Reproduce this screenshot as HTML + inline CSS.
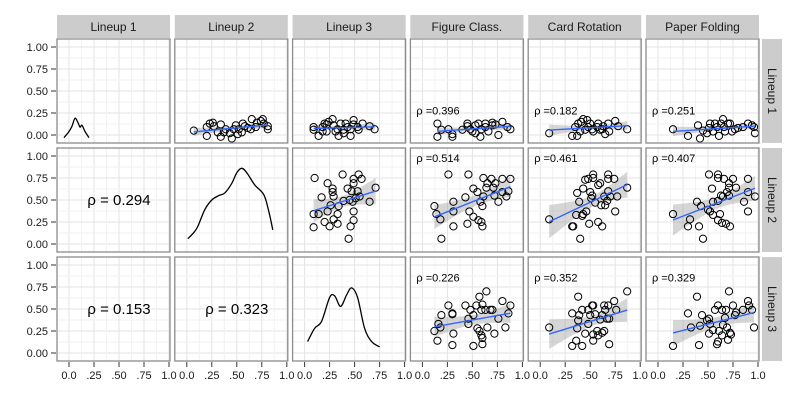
<!DOCTYPE html>
<html><head><meta charset="utf-8">
<style>
body{margin:0;background:#fff;}
svg{display:block;font-family:"Liberation Sans",sans-serif;}
</style></head>
<body>
<svg id="chart" width="800" height="400" viewBox="0 0 800 400"></svg>
<script>
const vars = ["Lineup 1","Lineup 2","Lineup 3","Figure Class.","Card Rotation","Paper Folding"];
const rowVars = ["Lineup 1","Lineup 2","Lineup 3"];
const xTicks = [0,0.25,0.5,0.75,1];
const xTickLabels = ["0.0",".25",".50",".75","1.0"];
const yTickLabels = ["0.00","0.25","0.50","0.75","1.00"];
// lower-triangle correlations [row, col, rho]
const lowerRho = [[1,0,"0.294"],[2,0,"0.153"],[2,1,"0.323"]];
// upper correlations [row, col, rho, labelY]
const upperRho = [[0,3,"0.396",0.28],[0,4,"0.182",0.28],[0,5,"0.251",0.28],
 [1,3,"0.514",0.98],[1,4,"0.461",0.98],[1,5,"0.407",0.98],
 [2,3,"0.226",0.86],[2,4,"0.352",0.86],[2,5,"0.329",0.86]];
// density curves (diagonal)
const dens0x = [-0.05,0.00,0.03,0.06,0.09,0.11,0.13,0.16,0.20];
const dens0y = [-0.03,0.04,0.10,0.19,0.14,0.09,0.11,0.04,-0.03];
const dens1x = [0.01,0.07,0.11,0.18,0.25,0.32,0.38,0.45,0.50,0.55,0.60,0.68,0.77,0.82,0.86];
const dens1y = [0.06,0.13,0.20,0.39,0.50,0.55,0.58,0.69,0.81,0.86,0.81,0.67,0.56,0.37,0.16];
const dens2x = [0.03,0.10,0.17,0.25,0.30,0.36,0.42,0.47,0.53,0.60,0.67,0.75];
const dens2y = [0.13,0.28,0.36,0.63,0.65,0.53,0.66,0.74,0.63,0.28,0.13,0.07];
// scatter panels: x values and y values
const p01x=[.07,.20,.23,.26,.27,.34,.20,.34,.37,.45,.43,.49,.51,.55,.56,.58,.64,.65,.69,.74,.76,.77,.81,.81,.70,.39,.47,.61,.31,.52];
const p01y=[.05,.09,.13,.14,.10,.12,-.01,-.02,.03,-.04,.02,.11,.01,.03,.13,.10,.065,.18,.09,.16,.18,.13,.10,.065,.14,.065,.065,.08,.03,.065];
const p02x=[.09,.09,.14,.18,.20,.22,.24,.28,.29,.31,.34,.36,.39,.41,.43,.46,.46,.49,.49,.53,.54,.58,.65,.70,.22,.33,.39,.18];
const p02y=[.09,.06,-.01,.04,.13,.12,.15,.18,.11,.04,-.01,.13,.06,.13,.09,.065,-.01,.17,.12,.09,.06,.13,.10,.065,.04,.065,.02,.09];
const p03x=[.15,.19,.15,.26,.30,.30,.45,.45,.48,.53,.56,.58,.59,.63,.63,.66,.70,.70,.73,.76,.80,.85,.88,.50,.40,.53];
const p03y=[.13,.06,-.02,.065,.01,-.02,.13,.10,.065,.11,.13,-.02,.065,.09,.13,.04,.14,.11,.12,.00,.15,.09,.065,.04,.06,.02];
const p04x=[.09,.32,.37,.35,.38,.41,.43,.47,.48,.50,.52,.53,.57,.58,.60,.62,.65,.68,.69,.75,.78,.87,.40,.45,.63];
const p04y=[.02,-.01,-.01,.09,.13,.15,.18,.17,.09,.13,.065,.04,.09,.13,.06,.065,.01,.13,.04,.16,.10,.065,.04,.06,.10];
const p05x=[.15,.30,.40,.42,.45,.49,.51,.52,.55,.59,.61,.63,.65,.66,.70,.72,.74,.77,.80,.85,.90,.94,.96,.97,.57,.67];
const p05y=[.065,-.01,.11,-.04,.05,.02,.08,.13,.04,.09,-.01,.13,.18,.09,.13,.13,.04,.065,.08,.09,.13,.11,.09,.02,.13,.04];
const p13x=[.10,.38,.54,.49,.57,.23,.49,.28,.43,.71,.28,.47,.17,.29,.55,.45,.65,.39,.48,.26,.34,.14,.09,.23,.33,.49,.29,.20,.49,.33,.25,.09,.46,.44,.53,.51];
const p13y=[.75,.79,.79,.74,.74,.69,.69,.63,.63,.64,.59,.60,.53,.54,.54,.50,.48,.49,.48,.44,.43,.34,.34,.37,.34,.37,.28,.25,.27,.23,.20,.19,.20,.06,.60,.52];
const p14x=[.26,.46,.61,.69,.80,.88,.65,.73,.51,.55,.64,.71,.80,.86,.43,.61,.72,.84,.31,.58,.76,.12,.60,.31,.47,.14,.18,.51,.56,.59,.45,.31,.60,.19];
const p14y=[.79,.79,.75,.74,.74,.74,.69,.69,.63,.59,.64,.64,.59,.60,.53,.54,.55,.54,.48,.48,.48,.43,.43,.37,.37,.34,.28,.31,.27,.25,.23,.20,.20,.06];
const p15x=[.09,.32,.33,.40,.49,.58,.62,.42,.43,.36,.46,.39,.37,.43,.50,.52,.51,.55,.61,.65,.67,.64,.70,.68,.77,.58,.60,.53,.48,.53,.68,.68,.74,.87,.75,.45];
const p15y=[.28,.20,.20,.06,.23,.25,.20,.32,.34,.33,.37,.48,.58,.63,.59,.55,.52,.47,.44,.44,.49,.54,.54,.60,.54,.67,.69,.75,.74,.79,.79,.74,.74,.64,.37,.73];
const p16x=[.15,.32,.30,.41,.45,.39,.43,.55,.52,.55,.62,.60,.64,.68,.72,.50,.54,.51,.60,.60,.66,.75,.71,.71,.78,.69,.65,.63,.71,.90,.86,.90,.97,.90,.60];
const p16y=[.34,.28,.20,.20,.06,.48,.43,.48,.37,.33,.34,.27,.24,.23,.20,.39,.63,.79,.75,.79,.74,.74,.69,.64,.64,.59,.54,.55,.55,.74,.48,.59,.54,.37,.49];
const p23x=[.12,.15,.16,.18,.19,.26,.30,.30,.30,.31,.43,.46,.48,.51,.51,.54,.57,.64,.55,.57,.59,.60,.60,.59,.63,.65,.68,.70,.72,.76,.80,.83,.86,.88,.46,.60];
const p23y=[.25,.14,.33,.29,.43,.54,.45,.44,.09,.22,.54,.39,.49,.43,.08,.54,.64,.70,.28,.25,.20,.17,.10,.49,.49,.29,.49,.49,.22,.39,.59,.29,.45,.54,.33,.55];
const p24x=[.09,.32,.36,.38,.39,.42,.42,.32,.37,.45,.48,.50,.52,.53,.55,.48,.53,.57,.58,.62,.62,.64,.65,.67,.68,.69,.76,.74,.69,.53,.64,.87,.38,.60];
const p24y=[.29,.45,.14,.64,.43,.49,.08,.08,.28,.22,.49,.43,.54,.54,.44,.33,.21,.25,.20,.23,.43,.54,.49,.39,.54,.39,.49,.59,.10,.14,.25,.70,.37,.38];
const p25x=[.15,.30,.33,.39,.41,.42,.44,.51,.51,.52,.55,.59,.60,.60,.61,.64,.64,.65,.68,.69,.70,.71,.72,.73,.75,.77,.78,.85,.90,.91,.94,.96,.57,.49,.67];
const p25y=[.08,.45,.29,.64,.09,.31,.43,.39,.22,.33,.26,.10,.54,.13,.25,.49,.20,.32,.49,.29,.15,.70,.23,.21,.54,.43,.46,.49,.59,.54,.49,.29,.49,.37,.40];
const scatterPanels = [
 [0,1,p01x,p01y],[0,2,p02x,p02y],[0,3,p03x,p03y],[0,4,p04x,p04y],[0,5,p05x,p05y],
 [1,2,p13x,p13y],[1,3,p14x,p14y],[1,4,p15x,p15y],[1,5,p16x,p16y],
 [2,3,p23x,p23y],[2,4,p24x,p24y],[2,5,p25x,p25y]];

const NS="http://www.w3.org/2000/svg";
const svg=document.getElementById('chart');
function el(tag,attrs,parent){const e=document.createElementNS(NS,tag);for(const k in attrs)e.setAttribute(k,attrs[k]);(parent||svg).appendChild(e);return e;}
const colLeft=i=>57+117.8*i, PW=113, PH=104;
const rowTop=r=>39+109*r;
const sx=(c,v)=>colLeft(c)+12+v*100;
const sy=(r,v)=>rowTop(r)+96-v*88;

// strips
vars.forEach((v,c)=>{
  const g=el('g',{});
  
  
  el('rect',{x:colLeft(c),y:15,width:PW,height:23,fill:'#cccccc'},g);
  const t=el('text',{x:colLeft(c)+PW/2,y:31,'text-anchor':'middle','font-size':12,fill:'#1a1a1a'},g);
  t.textContent=v;
});
rowVars.forEach((v,r)=>{
  const g=el('g',{});
  
  
  el('rect',{x:762,y:rowTop(r),width:20,height:PH,fill:'#cccccc'},g);
  const cx=772,cy=rowTop(r)+PH/2;
  const t=el('text',{x:cx,y:cy+4,'text-anchor':'middle','font-size':12,fill:'#1a1a1a',transform:`rotate(90 ${cx} ${cy})`},g);
  t.textContent=v;
});

// panels
for(let r=0;r<3;r++)for(let c=0;c<6;c++){
  const g=el('g',{});
  
  
  el('rect',{x:colLeft(c),y:rowTop(r),width:PW,height:PH,fill:'#fff'},g);
  for(let k=-0.125;k<=1.13;k+=0.125){
    const major=Math.abs(k*4-Math.round(k*4))<1e-6;
    const col=major?'#e3e3e3':'#f2f2f2';
    const X=sx(c,k);
    if(X>colLeft(c)&&X<colLeft(c)+PW) el('line',{x1:X,x2:X,y1:rowTop(r),y2:rowTop(r)+PH,stroke:col,'stroke-width':1},g);
    const Y=sy(r,k);
    if(Y>rowTop(r)&&Y<rowTop(r)+PH) el('line',{x1:colLeft(c),x2:colLeft(c)+PW,y1:Y,y2:Y,stroke:col,'stroke-width':1},g);
  }
}

// density curves
function smoothPath(pts){
  let d=`M${pts[0][0]},${pts[0][1]}`;
  for(let i=0;i<pts.length-1;i++){
    const p0=pts[Math.max(0,i-1)],p1=pts[i],p2=pts[i+1],p3=pts[Math.min(pts.length-1,i+2)];
    const c1=[p1[0]+(p2[0]-p0[0])/6,p1[1]+(p2[1]-p0[1])/6];
    const c2=[p2[0]-(p3[0]-p1[0])/6,p2[1]-(p3[1]-p1[1])/6];
    d+=` C${c1[0]},${c1[1]} ${c2[0]},${c2[1]} ${p2[0]},${p2[1]}`;
  }
  return d;
}
[[dens0x,dens0y],[dens1x,dens1y],[dens2x,dens2y]].forEach((dd,i)=>{
  const pts=dd[0].map((x,j)=>[sx(i,x),sy(i,dd[1][j])]);
  const p=el('path',{d:smoothPath(pts),fill:'none',stroke:'#000','stroke-width':1.3});
  
  
});

// scatter panels with regression
scatterPanels.forEach(([r,c,xs,ys])=>{
  const g=el('g',{});
  
  
  const n=xs.length;
  const mx=xs.reduce((a,b)=>a+b,0)/n, my=ys.reduce((a,b)=>a+b,0)/n;
  let sxx=0,sxy=0;for(let i=0;i<n;i++){sxx+=(xs[i]-mx)**2;sxy+=(xs[i]-mx)*(ys[i]-my);}
  const b=sxy/sxx,a=my-b*mx;
  let sse=0;for(let i=0;i<n;i++)sse+=(ys[i]-a-b*xs[i])**2;
  const s=Math.sqrt(sse/(n-2)),t=2.03;
  const x0=Math.min(...xs),x1=Math.max(...xs);
  const up=[],lo=[];
  for(let k=0;k<=30;k++){
    const x=x0+(x1-x0)*k/30, yh=a+b*x, se=t*s*Math.sqrt(1/n+(x-mx)**2/sxx);
    up.push(`${sx(c,x)},${sy(r,yh+se)}`);lo.unshift(`${sx(c,x)},${sy(r,yh-se)}`);
  }
  const band=el('polygon',{points:up.concat(lo).join(' '),fill:'#999','fill-opacity':0.4},g);
  
  
  xs.forEach((x,i)=>{
    const pt=el('circle',{cx:sx(c,x),cy:sy(r,ys[i]),r:3.6,fill:'none',stroke:'#000','stroke-width':1},g);
    
    
  });
  const ln=el('line',{x1:sx(c,x0),y1:sy(r,a+b*x0),x2:sx(c,x1),y2:sy(r,a+b*x1),stroke:'#3366FF','stroke-width':1.4},g);
  
  
});

// rho labels
lowerRho.forEach(([r,c,v])=>{
  const t=el('text',{x:sx(c,0.5),y:sy(r,0.5)+5,'text-anchor':'middle','font-size':15,fill:'#000'});
  
  
  t.textContent='ρ = '+v;
});
upperRho.forEach(([r,c,v,ly])=>{
  const t=el('text',{x:colLeft(c)+6,y:sy(r,ly)+4,'font-size':11,fill:'#000'});
  
  
  t.textContent='ρ =' +v;
});

// panel borders
for(let r=0;r<3;r++)for(let c=0;c<6;c++){
  el('rect',{x:colLeft(c),y:rowTop(r),width:PW,height:PH,fill:'none',stroke:'#8c8c8c','stroke-width':1.3});
}

// y axis
for(let r=0;r<3;r++){
  const g=el('g',{});
  
  
  xTicks.forEach((v,i)=>{
    const Y=sy(r,v);
    el('line',{x1:51,x2:56,y1:Y,y2:Y,stroke:'#333','stroke-width':1},g);
    const t=el('text',{x:48,y:Y+4,'text-anchor':'end','font-size':11,fill:'#1a1a1a'},g);
    t.textContent=yTickLabels[i];
  });
}
// x axis
for(let c=0;c<6;c++){
  const g=el('g',{});
  
  
  xTicks.forEach((v,i)=>{
    const X=sx(c,v);
    el('line',{x1:X,x2:X,y1:362,y2:367,stroke:'#333','stroke-width':1},g);
    const t=el('text',{x:X,y:379,'text-anchor':'middle','font-size':11,fill:'#1a1a1a'},g);
    t.textContent=xTickLabels[i];
  });
}
</script>
</body></html>
